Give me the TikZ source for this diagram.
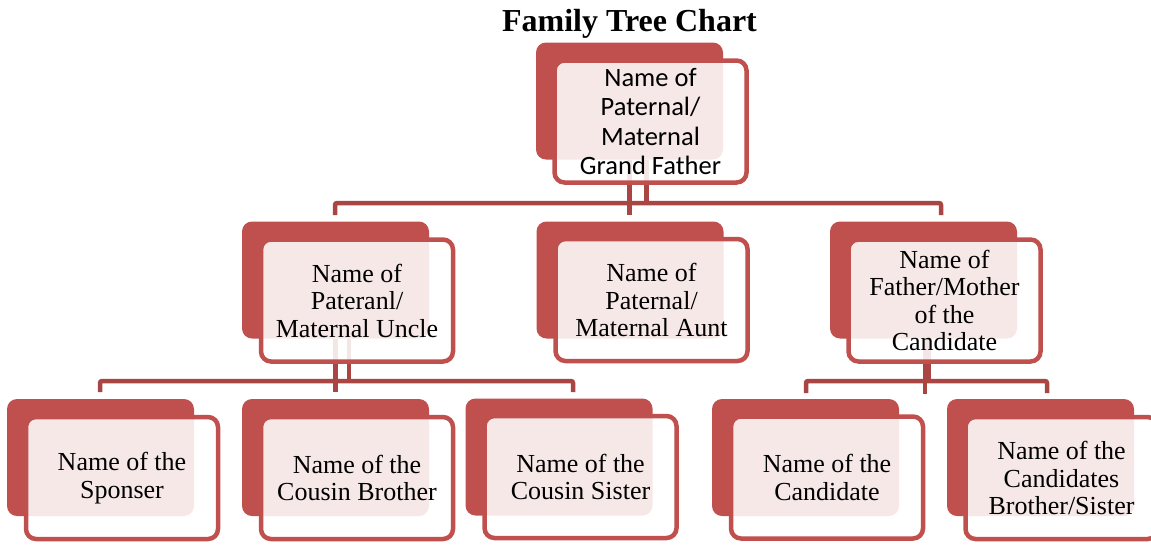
\documentclass[tikz,border=0pt]{standalone}
\usepackage{fontspec}
\setmainfont{Liberation Serif}
\newfontfamily\gffont{Carlito}
\usepackage{tikz}
\usetikzlibrary{calc}
\definecolor{boxred}{HTML}{C0504D}
\definecolor{linkred}{HTML}{A94643}
\tikzset{
	darkstyle/.style={rectangle,rounded corners=10pt,fill=boxred,inner sep=0pt,minimum width=187pt,minimum height=117pt},
	lightstyle/.style={rectangle,rounded corners=10pt,draw=boxred,line width=4.5pt,fill=white,fill opacity=0.87,text opacity=1,inner sep=0pt,minimum width=192pt,minimum height=122pt,align=center,font=\fontsize{26}{27.5}\selectfont},
	linkstyle/.style={draw=linkred,line width=4.5pt}
}

\begin{document}
\begin{tikzpicture}[x=1pt,y=-1pt]
	\useasboundingbox (0,0) rectangle (1151,544);
	\node[anchor=base,font=\bfseries\fontsize{32}{38}\selectfont] (title) at (629.5,31.5) {Family Tree Chart};
	% back boxes
	\node[darkstyle] (gfb) at (629.5,101) {};
	\node[darkstyle] (uncleb) at (335.5,280) {};
	\node[darkstyle] (auntb) at (630,280) {};
	\node[darkstyle] (fatherb) at (923.5,280) {};
	\node[darkstyle] (sponserb) at (100.5,457.5) {};
	\node[darkstyle] (brotherb) at (335.5,457.5) {};
	\node[darkstyle] (sisterb) at (559,457) {};
	\node[darkstyle] (candb) at (805.5,457.5) {};
	\node[darkstyle] (sibb) at (1040.5,457.5) {};
	% connectors
	\coordinate (bar1l) at (335,215);
	\coordinate (bar1r) at (941,215);
	\coordinate (bar2l) at (100,392);
	\coordinate (bar2r) at (573,392);
	\coordinate (bar3l) at (806,393);
	\coordinate (bar3r) at (1047,393);
	\draw[linkstyle,rounded corners=2pt] (bar1l) -- ++(0,-12) -| (bar1r);
	\draw[linkstyle] (gfb.south) -- (gfb.south |- bar1l);
	\draw[linkstyle] ($(gfb.south)+(17,0)$) -- ++(0,44);
	\draw[linkstyle,rounded corners=2pt] (bar2l) -- ++(0,-11) -| (bar2r);
	\draw[linkstyle] (uncleb.south) -- (uncleb.south |- bar2l);
	\draw[linkstyle] ($(uncleb.south)+(13.5,0)$) -- ++(0,43);
	\draw[linkstyle,rounded corners=2pt] (bar3l) -- ++(0,-12) -| (bar3r);
	\draw[linkstyle] ($(fatherb.south)+(1.5,0)$) -- ++(0,55);
	\draw[linkstyle] ($(fatherb.south)+(5.5,0)$) -- ++(0,43);
	% front boxes
	\node[lightstyle,font=\gffont\fontsize{26.5}{29.3}\selectfont] (gf) at (650.5,121.5) {Name of\\Paternal/\\Maternal\\Grand Father};
	\node[lightstyle] (uncle) at (357,300.5) {Name of\\Pateranl/\\Maternal Uncle};
	\node[lightstyle] (aunt) at (651.5,300) {Name of\\Paternal/\\Maternal Aunt};
	\node[lightstyle] (father) at (944.5,300.5) {Name of\\Father/Mother\\of the\\Candidate};
	\node[lightstyle] (sponser) at (122,478) {Name of the\\Sponser};
	\node[lightstyle] (brother) at (357,478) {Name of the\\Cousin Brother};
	\node[lightstyle] (sister) at (580.5,477) {Name of the\\Cousin Sister};
	\node[lightstyle] (cand) at (827,477.5) {Name of the\\Candidate};
	\node[lightstyle] (sib) at (1061.5,478) {Name of the\\Candidates\\Brother/Sister};
\end{tikzpicture}
\end{document}
